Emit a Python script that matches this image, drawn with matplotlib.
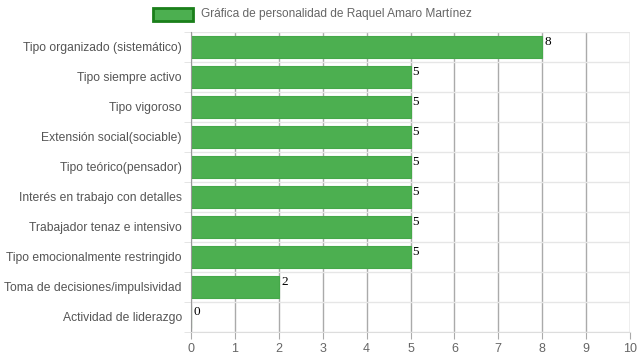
import matplotlib.pyplot as plt
import numpy as np
from matplotlib.patches import Rectangle

# Data
categories = ['Tipo organizado (sistemático)', 'Tipo siempre activo', 'Tipo vigoroso',
              'Extensión social(sociable)', 'Tipo teórico(pensador)',
              'Interés en trabajo con detalles', 'Trabajador tenaz e intensivo',
              'Tipo emocionalmente restringido', 'Toma de decisiones/impulsividad',
              'Actividad de liderazgo']
values = [8, 5, 5, 5, 5, 5, 5, 5, 2, 0]
series_name = 'Gráfica de personalidad de Raquel Amaro Martínez'

plt.rcParams['font.family'] = ['Liberation Sans', 'DejaVu Sans']

fig = plt.figure(figsize=(6.39, 3.6), dpi=100)
ax = fig.add_axes([191 / 639, 1 - 332 / 360, (630 - 191) / 639, 300 / 360])

y = np.arange(len(categories))
ax.barh(y, values, height=0.72, color='#4CAF50', edgecolor='#45a849', linewidth=0.8, zorder=2)

for yi, v in zip(y, values):
    ax.text(v + 0.05, yi - 0.38, str(v), fontsize=9.5, family='Liberation Serif',
            ha='left', va='top', color='black', zorder=3)

ax.set_xlim(0, 10)
ax.set_ylim(len(categories) - 0.5, -0.5)
ax.set_xticks(range(0, 11))
ax.set_yticks(y)
ax.set_yticklabels(categories)
ax.set_yticks(np.arange(-0.5, len(categories)), minor=True)

ax.tick_params(axis='x', length=5, color='#aaaaaa', labelsize=9, labelcolor='#666666', pad=3)
ax.tick_params(axis='y', which='major', length=0, labelsize=8.7, labelcolor='#555555', pad=6.5)
ax.tick_params(axis='y', which='minor', length=5, color='#e0e0e0')
for lbl in ax.get_yticklabels():
    lbl.set_y(lbl.get_position()[1])

ax.grid(axis='x', color='#aaaaaa', linewidth=1, zorder=1)
ax.grid(axis='y', which='minor', color='#e6e6e6', linewidth=1, zorder=1)
ax.set_axisbelow(True)

for s in ['top', 'right']:
    ax.spines[s].set_visible(False)
ax.spines['left'].set_color('#999999')
ax.spines['bottom'].set_color('#dddddd')

# legend
fig.patches.append(Rectangle((153 / 639, 1 - 21 / 360), 40 / 639, 13 / 360,
                             transform=fig.transFigure, facecolor='#4CAF50',
                             edgecolor='#1a7f1a', linewidth=2))
fig.text(201 / 639, 1 - 14 / 360, series_name, fontsize=8.6, color='#666666',
         ha='left', va='center')

fig.savefig('out.png', dpi=100)
